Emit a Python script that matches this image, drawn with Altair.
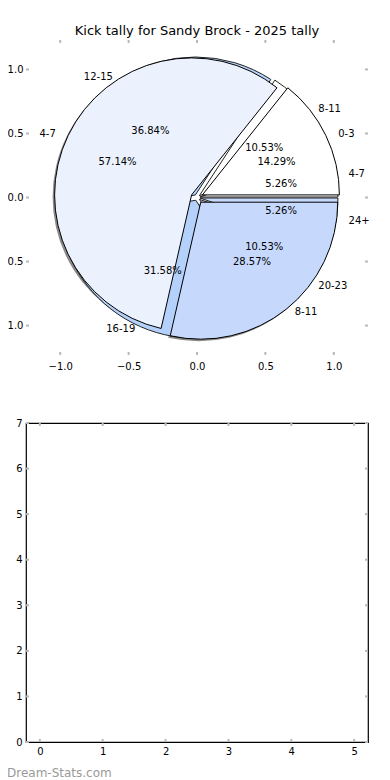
import math
import altair as alt
import pandas as pd

title_text = "Kick tally for Sandy Brock - 2025 tally"

# Outer pie (19 kicks)
pieA_labels = ["4-7", "8-11", "12-15", "16-19", "20-23", "24+"]
pieA_values = [1, 2, 7, 6, 2, 1]
pieA_colors = ["#ffffff", "#ffffff", "#b8d5fc", "#b3d1fb", "#c6d9fc", "#c6d9fc"]

# Inner pie (7 kicks)
pieB_labels = ["0-3", "4-7", "8-11"]
pieB_values = [1, 4, 2]
pieB_colors = ["#ffffff", "#ebf1fd", "#c6d9fd"]

pie_ticks = [-1.0, -0.5, 0.0, 0.5, 1.0]
lower_xticks = [0, 1, 2, 3, 4, 5]
lower_yticks = [0, 1, 2, 3, 4, 5, 6, 7]
watermark = "Dream-Stats.com"

FONT = "DejaVu Sans"
TICK_GRAY = "#b8b8b8"
W1, H1 = 342, 315
W2, H2 = 342, 319
R = 137
PX_X, PX_Y = 137, 128   # pixels per data unit in the pie panel


def pie_df(labels, values, colors):
    tot = sum(values)
    return pd.DataFrame({
        "idx": list(range(len(labels))),
        "label": labels,
        "value": values,
        "color": colors,
        "pct": [f"{v / tot * 100:.2f}%" for v in values],
    })


dfA = pie_df(pieA_labels, pieA_values, pieA_colors)
dfB = pie_df(pieB_labels, pieB_values, pieB_colors)

theta_scale = alt.Scale(domain=[0, 1], range=[2.5 * math.pi, 0.5 * math.pi])
MID = "PI*(datum.value_start+datum.value_end)"


def pie_base(df):
    return alt.Chart(df).encode(
        theta=alt.Theta("value:Q", stack="normalize", scale=theta_scale),
        order=alt.Order("idx:Q"),
    )


def ex(e, extra=0):
    return dict(xOffset=alt.expr(f"{e}*cos({MID})+({-extra})"),
                yOffset=alt.expr(f"-{e}*sin({MID})+({extra})"))


def text_pos(dist, e, side_align):
    d = dict(radius=0,
             xOffset=alt.expr(f"({dist * PX_X}+{e})*cos({MID})"),
             yOffset=alt.expr(f"-({dist * PX_Y}+{e})*sin({MID})"),
             baseline="middle", font=FONT, fontSize=10, color="black")
    if side_align:
        d["align"] = alt.expr(f"cos({MID}) >= 0 ? 'left' : 'right'")
    else:
        d["align"] = "center"
    return d


EA, EB = 3, 6
shadow = pie_base(dfB).mark_arc(outerRadius=R, fill="#3a3a3a", opacity=0.6,
                                **ex(EB, 2))
arcA = pie_base(dfA).mark_arc(outerRadius=R + 1, stroke="#222222",
                              strokeWidth=1, **ex(EA)).encode(
    color=alt.Color("color:N", scale=None))
arcB = pie_base(dfB).mark_arc(outerRadius=R, stroke="black", strokeWidth=1,
                              **ex(EB)).encode(
    color=alt.Color("color:N", scale=None))
labA = pie_base(dfA).mark_text(**text_pos(1.1, EA, True)).encode(text="label:N")
labB = pie_base(dfB).mark_text(**text_pos(1.1, EB, True)).encode(text="label:N")
pctA = pie_base(dfA).mark_text(**text_pos(0.6, EA, False)).encode(text="pct:N")
pctB = pie_base(dfB).mark_text(**text_pos(0.6, EB, False)).encode(text="pct:N")

ticks_df = pd.DataFrame({"t": pie_ticks})
xsc1 = alt.Scale(domain=[-1.25, 1.25], nice=False, zero=False)
ysc1 = alt.Scale(domain=[-1.23, 1.23], nice=False, zero=False)
ax_common = dict(domain=False, ticks=False, grid=False, title=None,
                 labelFont=FONT, labelFontSize=10, labelColor="black",
                 format=".1f")
axes1 = alt.Chart(ticks_df).mark_point(opacity=0).encode(
    x=alt.X("t:Q", scale=xsc1, axis=alt.Axis(values=pie_ticks, labelPadding=6, **ax_common)),
    y=alt.Y("t:Q", scale=ysc1, axis=alt.Axis(values=pie_ticks, labelPadding=3, **ax_common)),
)
tk = dict(color=TICK_GRAY, strokeWidth=2)
xt_top1 = alt.Chart(ticks_df).mark_rule(**tk).encode(
    x=alt.X("t:Q", scale=xsc1), y=alt.value(0), y2=alt.value(3))
xt_bot1 = alt.Chart(ticks_df).mark_rule(**tk).encode(
    x=alt.X("t:Q", scale=xsc1), y=alt.value(H1 - 3), y2=alt.value(H1))
yt_l1 = alt.Chart(ticks_df).mark_rule(**tk).encode(
    y=alt.Y("t:Q", scale=ysc1), x=alt.value(0), x2=alt.value(3))
yt_r1 = alt.Chart(ticks_df).mark_rule(**tk).encode(
    y=alt.Y("t:Q", scale=ysc1), x=alt.value(W1 - 3), x2=alt.value(W1))

top = alt.layer(
    axes1, xt_top1, xt_bot1, yt_l1, yt_r1,
    shadow, arcA, arcB, labA, labB, pctA, pctB,
).properties(
    width=W1, height=H1,
    title=alt.TitleParams(title_text, font=FONT, fontSize=13, fontWeight="normal",
                          color="black", offset=1, anchor="middle"),
    view=alt.ViewBackground(stroke=None),
)

# Lower empty panel
xdf = pd.DataFrame({"x": lower_xticks})
ydf = pd.DataFrame({"y": lower_yticks})
xsc2 = alt.Scale(domain=[-0.22, 5.22], nice=False, zero=False)
ysc2 = alt.Scale(domain=[0, 7], nice=False, zero=False)
ax2 = dict(domain=False, ticks=False, grid=False, title=None,
           labelFont=FONT, labelFontSize=10, labelColor="black", format="d")
xaxis2 = alt.Chart(xdf).mark_rule(**tk).encode(
    x=alt.X("x:Q", scale=xsc2, axis=alt.Axis(values=lower_xticks, labelPadding=4, **ax2)),
    y=alt.value(H2 - 3), y2=alt.value(H2))
xtop2 = alt.Chart(xdf).mark_rule(**tk).encode(
    x=alt.X("x:Q", scale=xsc2), y=alt.value(0), y2=alt.value(3))
yaxis2 = alt.Chart(ydf).mark_rule(**tk).encode(
    y=alt.Y("y:Q", scale=ysc2, axis=alt.Axis(values=lower_yticks, labelPadding=4, **ax2)),
    x=alt.value(0), x2=alt.value(3))
yright2 = alt.Chart(ydf).mark_rule(**tk).encode(
    y=alt.Y("y:Q", scale=ysc2), x=alt.value(W2 - 3), x2=alt.value(W2))
wm = alt.Chart(pd.DataFrame({"w": [watermark]})).mark_text(
    font=FONT, fontSize=12, color="#9a9a9a", align="left", baseline="middle"
).encode(text="w:N", x=alt.value(-19), y=alt.value(H2 + 31))

bottom = alt.layer(xaxis2, xtop2, yaxis2, yright2, wm).properties(
    width=W2, height=H2, view=alt.ViewBackground(stroke="black", strokeWidth=1.2))

chart = alt.vconcat(top, bottom, spacing=46).properties(
    padding={"left": -10, "top": 17, "right": 0, "bottom": 0}
).configure(background="white")

chart.save("out.html", embed_options={"renderer": "svg", "actions": False})
